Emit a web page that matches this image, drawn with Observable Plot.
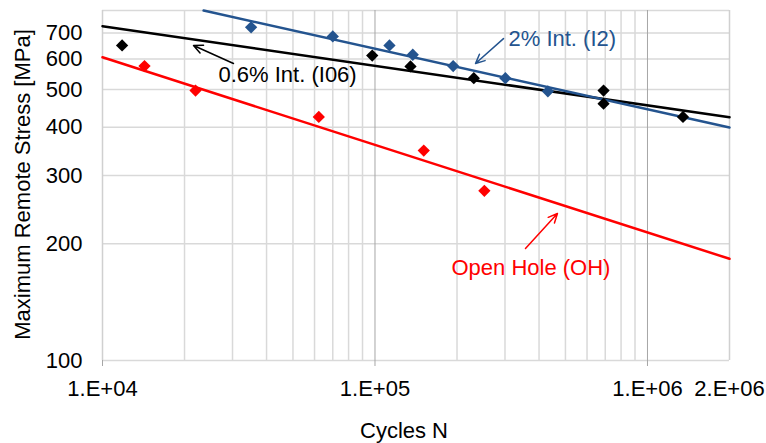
<!DOCTYPE html>
<html>
<head>
<meta charset="utf-8">
<script src="https://cdn.jsdelivr.net/npm/d3@7"></script>
<script src="https://cdn.jsdelivr.net/npm/@observablehq/plot@0.6"></script>
<style>
  body { margin: 0; background: #fff; }
  #chart svg { display: block; }
</style>
</head>
<body>
<div id="chart"></div>
<script>
// ---- data ----
const blackX = [11800, 97700, 135000, 230500, 690000, 690000, 1350000];
const blackY = [650, 612, 574, 535, 497, 460, 425];
const blueX = [35100, 70000, 113000, 137600, 193600, 301000, 431000];
const blueY = [724, 686, 650, 615, 575, 535, 495];
const redX = [14260, 21950, 62200, 151000, 252000];
const redY = [575, 497, 425, 348, 274];

// power-law trend lines (end points)
const blackFitX = [1e4, 2e6];
const blackFitY = [729, 424];
const blueFitX = [23500, 2e6];
const blueFitY = [800, 399];
const redFitX = [1e4, 2e6];
const redFitY = [606, 183];

// axes
const xTicks = [1e4, 1e5, 1e6, 2e6];
const xTickLabels = ["1.E+04", "1.E+05", "1.E+06", "2.E+06"];
const xMajorTicks = [1e4, 1e5, 1e6];
const xMinorGrid = [2e4, 3e4, 4e4, 5e4, 6e4, 7e4, 8e4, 9e4, 2e5, 3e5, 4e5, 5e5, 6e5, 7e5, 8e5, 9e5];
const xMajorGrid = [1e5, 1e6];
const xBorder = [1e4, 2e6];
const yTicks = [100, 200, 300, 400, 500, 600, 700];
const yGrid = [100, 200, 300, 400, 500, 600, 700, 800];

// annotations (data coordinates)
const annText = ["0.6% Int. (I06)", "2% Int. (I2)", "Open Hole (OH)"];
const annX = [26650, 309000, 190900];
const annY = [544, 677, 173];
const arrowX1 = [30250, 296200, 356700];
const arrowY1 = [584, 677, 194.5];
const arrowX2 = [21580, 233800, 467300];
const arrowY2 = [650, 584, 239.5];

const BLACK = "#000000", BLUE = "#24548f", RED = "#ff0000";
const annColor = [BLACK, BLUE, RED];

const toPts = (xs, ys) => xs.map((x, i) => ({x, y: ys[i]}));
const annotations = annText.map((t, i) => ({
  t, x: annX[i], y: annY[i], x1: arrowX1[i], y1: arrowY1[i], x2: arrowX2[i], y2: arrowY2[i], c: annColor[i]
}));

const diamond = {
  draw(context, size) {
    const h = Math.sqrt(size / 2);
    context.moveTo(0, -h);
    context.lineTo(h, 0);
    context.lineTo(0, h);
    context.lineTo(-h, 0);
    context.closePath();
  }
};

const FONT = "'Liberation Sans', Arial, Helvetica, sans-serif";

const chart = Plot.plot({
  width: 766,
  height: 443,
  marginLeft: 102,
  marginRight: 37,
  marginTop: 10,
  marginBottom: 83,
  style: {fontFamily: FONT, fontSize: "22px", background: "#fff", color: "#000"},
  x: {type: "log", domain: [1e4, 2e6], axis: null},
  y: {type: "log", domain: [100, 800], axis: null},
  marks: [
    Plot.ruleY(yGrid, {stroke: "#d9d9d9", strokeWidth: 1.5}),
    Plot.ruleX(xMinorGrid, {stroke: "#d9d9d9", strokeWidth: 1.5}),
    Plot.ruleX(xBorder, {stroke: "#d0d0d0", strokeWidth: 1.5}),
    Plot.ruleX(xMajorGrid, {stroke: "#a6a6a6", strokeWidth: 1}),
    Plot.axisX({ticks: xMajorTicks, tickSize: 6, text: null, stroke: "#a6a6a6"}),
    Plot.axisX({ticks: xTicks, tickSize: 0, tickPadding: 20, fontSize: 22, fill: "#000",
      tickFormat: (d) => xTickLabels[xTicks.indexOf(d)], label: null}),
    Plot.axisY({ticks: yTicks, tickSize: 0, tickPadding: 20, fontSize: 22, fill: "#000",
      tickFormat: d3.format("d"), label: null}),
    Plot.line(toPts(blackFitX, blackFitY), {x: "x", y: "y", stroke: BLACK, strokeWidth: 2.5}),
    Plot.line(toPts(blueFitX, blueFitY), {x: "x", y: "y", stroke: BLUE, strokeWidth: 2.5}),
    Plot.line(toPts(redFitX, redFitY), {x: "x", y: "y", stroke: RED, strokeWidth: 2.5}),
    Plot.dot(toPts(blueX, blueY), {x: "x", y: "y", symbol: diamond, r: 4.9, fill: BLUE, stroke: "none"}),
    Plot.dot(toPts(blackX, blackY), {x: "x", y: "y", symbol: diamond, r: 4.9, fill: BLACK, stroke: "none"}),
    Plot.dot(toPts(redX, redY), {x: "x", y: "y", symbol: diamond, r: 4.9, fill: RED, stroke: "none"}),
    Plot.arrow(annotations, {x1: "x1", y1: "y1", x2: "x2", y2: "y2", stroke: "c", strokeWidth: 1.5,
      headLength: 10, headAngle: 50}),
    Plot.text(annotations, {x: "x", y: "y", text: "t", fill: "c", textAnchor: "start", fontSize: 22}),
    Plot.text(["Maximum Remote Stress [MPa]"], {frameAnchor: "left", textAnchor: "middle", lineAnchor: "middle",
      rotate: -90, dx: -80, dy: -1, fontSize: 22, fill: "#000"}),
    Plot.text(["Cycles N"], {frameAnchor: "bottom", textAnchor: "middle", lineAnchor: "middle",
      dx: -12, dy: 70, fontSize: 22, fill: "#000"})
  ]
});

document.getElementById("chart").appendChild(chart);
</script>
</body>
</html>
